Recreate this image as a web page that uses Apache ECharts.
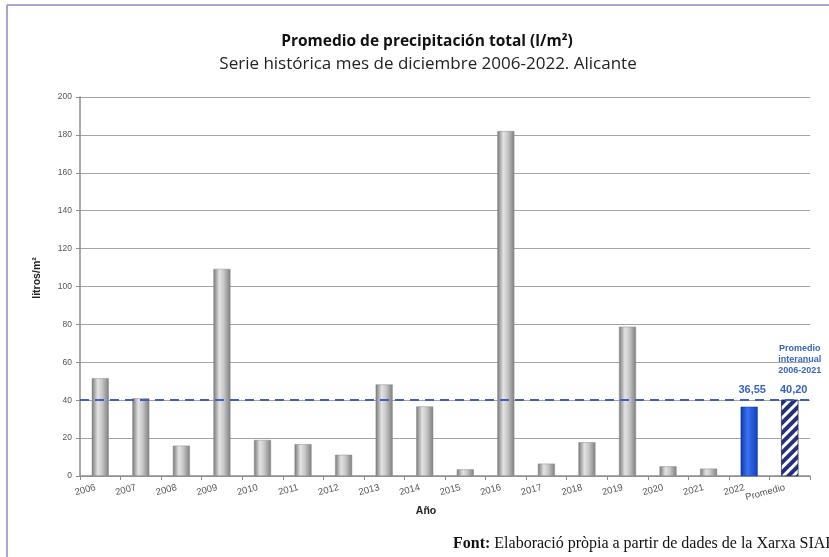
<!DOCTYPE html>
<html>
<head>
<meta charset="utf-8">
<script src="https://cdn.jsdelivr.net/npm/echarts/dist/echarts.min.js"></script>
<style>
  html, body { margin: 0; padding: 0; background: #fff; }
  #chart { width: 829px; height: 557px; }
</style>
</head>
<body>
<div id="chart"></div>
<script>
// años del eje x
const years = ['2006', '2007', '2008', '2009', '2010', '2011', '2012', '2013', '2014',
  '2015', '2016', '2017', '2018', '2019', '2020', '2021', '2022', 'Promedio'];
// precipitación (l/m2)
const rain = [51.6, 41, 16, 109.3, 19, 16.8, 11.2, 48.3, 36.7,
  3.5, 182, 6.5, 17.8, 78.8, 5.1, 3.9, 36.55, 40.20];
const average = 40.20; // promedio interanual 2006-2021
const yTicks = [0, 20, 40, 60, 80, 100, 120, 140, 160, 180, 200];

const chart = echarts.init(document.getElementById('chart'));

const greyBar = new echarts.graphic.LinearGradient(0, 0, 1, 0, [
  { offset: 0, color: '#767676' },
  { offset: 0.35, color: '#e3e3e3' },
  { offset: 0.6, color: '#c8c8c8' },
  { offset: 1, color: '#7e7e7e' },
]);
const blueBar = new echarts.graphic.LinearGradient(0, 0, 1, 0, [
  { offset: 0, color: '#0c36b0' },
  { offset: 0.4, color: '#3b74ee' },
  { offset: 1, color: '#113fbf' },
]);

const labelBlue = '#3764c0';

const barData = rain.map((v, i) => {
  const item = { value: v };
  if (years[i] === '2022') {
    item.itemStyle = { color: blueBar, borderColor: '#0a2f9a', borderWidth: 0.5 };
    item.label = {
      show: true, position: 'top', distance: 11, offset: [3, 0],
      formatter: (p) => p.value.toFixed(2).replace('.', ','),
      color: labelBlue, fontSize: 11, fontWeight: 'bold', fontFamily: 'Liberation Sans',
    };
  } else if (years[i] === 'Promedio') {
    item.itemStyle = {
      color: '#26307a',
      borderColor: '#1c245e', borderWidth: 0.5,
      decal: {
        symbol: 'rect', color: '#ffffff',
        dashArrayX: [1, 0], dashArrayY: [3, 3.5],
        rotation: -Math.PI / 4,
      },
    };
    item.label = {
      show: true, position: 'top', distance: 2, offset: [10, 0],
      formatter: (p) => '{a|Promedio}\n{a|interanual}\n{a|2006-2021}\n{b|' +
        p.value.toFixed(2).replace('.', ',') + '}',
      rich: {
        a: { color: labelBlue, fontSize: 9, fontWeight: 'bold', fontFamily: 'Liberation Sans', lineHeight: 11, align: 'center' },
        b: { color: labelBlue, fontSize: 11, fontWeight: 'bold', fontFamily: 'Liberation Sans', lineHeight: 22, align: 'center', padding: [6, 12, 0, 0] },
      },
    };
  } else {
    item.itemStyle = { color: greyBar, borderColor: '#8a8a8a', borderWidth: 0.5 };
  }
  return item;
});

const option = {
  backgroundColor: '#ffffff',
  animation: false,
  grid: { left: 80, right: 19, top: 97, bottom: 81 },
  xAxis: {
    type: 'category',
    data: years,
    axisLine: { lineStyle: { color: '#8c8c8c', width: 1.5 } },
    axisTick: { show: true, length: 4, lineStyle: { color: '#8c8c8c' } },
    axisLabel: {
      rotate: 15, fontSize: 9.5, color: '#555', fontFamily: 'Liberation Sans',
      margin: 10, interval: 0, padding: [0, 5, 0, 0],
    },
  },
  yAxis: {
    type: 'value',
    min: yTicks[0],
    max: yTicks[yTicks.length - 1],
    interval: 20,
    axisLine: { show: true, lineStyle: { color: '#8c8c8c', width: 1.5 } },
    axisTick: { show: true, length: 4, lineStyle: { color: '#8c8c8c' } },
    axisLabel: { fontSize: 8.5, color: '#555', fontFamily: 'Liberation Sans', margin: 8 },
    splitLine: { lineStyle: { color: '#a3a3a3', width: 1.2 } },
  },
  series: [
    {
      type: 'bar',
      data: barData,
      barWidth: 17,
      markLine: {
        silent: true,
        symbol: 'none',
        label: { show: false },
        lineStyle: { color: '#3f5fc0', type: [9, 6], width: 2 },
        data: [{ yAxis: average }],
      },
    },
  ],
  graphic: [
    {
      type: 'line', z: 100,
      shape: { x1: 7, y1: 5, x2: 829, y2: 5 },
      style: { stroke: '#9383c4', lineWidth: 1.5 },
    },
    {
      type: 'line', z: 100,
      shape: { x1: 7, y1: 5, x2: 7, y2: 557 },
      style: { stroke: '#9383c4', lineWidth: 1.5 },
    },
    {
      type: 'text',
      x: 427, y: 42,
      style: {
        text: 'Promedio de precipitación total (l/m²)',
        font: 'bold 15.5px "Open Sans"',
        fill: '#111', align: 'center', verticalAlign: 'middle',
      },
    },
    {
      type: 'text',
      x: 428, y: 64,
      style: {
        text: 'Serie histórica mes de diciembre 2006-2022. Alicante',
        font: '17px "Open Sans"',
        fill: '#222', align: 'center', verticalAlign: 'middle',
      },
    },
    {
      // nombre del eje y
      type: 'text',
      x: 37, y: 278, rotation: Math.PI / 2,
      style: {
        text: 'litros/m²',
        font: 'bold 10.5px "Liberation Sans"',
        fill: '#222', align: 'center', verticalAlign: 'middle',
      },
    },
    {
      type: 'text',
      x: 426, y: 511,
      style: {
        text: 'Año',
        font: 'bold 10.5px "Liberation Sans"',
        fill: '#222', align: 'center', verticalAlign: 'middle',
      },
    },
    {
      type: 'text',
      left: 453,
      top: 536,
      style: {
        text: '{b|Font:} Elaboració pròpia a partir de dades de la Xarxa SIAR',
        font: '16px "Liberation Serif"',
        fill: '#111',
        rich: {
          b: { fontFamily: 'Liberation Serif', fontSize: 16, fontWeight: 'bold', fill: '#111' },
        },
      },
    },
  ],
};

chart.setOption(option);
</script>
</body>
</html>
